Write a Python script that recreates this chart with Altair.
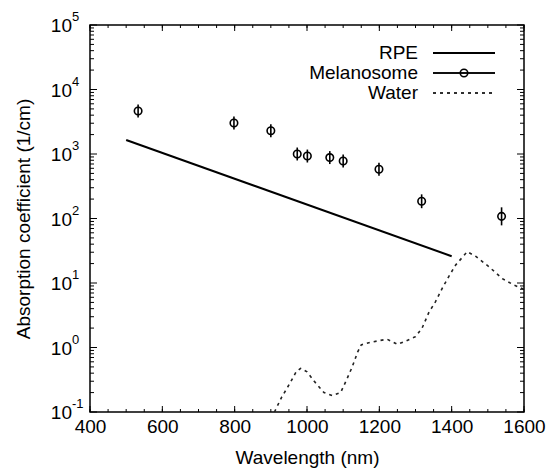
import altair as alt
import pandas as pd

# ---- data ----
mel_wl = [533, 798, 900, 973, 1001, 1063, 1100, 1199, 1317, 1538]
mel_val = [4640, 3020, 2300, 1000, 930, 880, 780, 580, 185, 108]
mel_err = [1.26, 1.26, 1.26, 1.26, 1.26, 1.26, 1.26, 1.26, 1.28, 1.38]  # multiplicative

rpe_wl = [500, 1400]
rpe_val = [1650, 26]

water_wl = [910, 930, 953, 970, 982, 1000, 1020, 1047, 1070, 1093, 1111, 1125, 1140,
            1150, 1175, 1200, 1222, 1250, 1272, 1300, 1318, 1337, 1355, 1375, 1392,
            1411, 1443, 1466, 1503, 1540, 1572, 1600]
water_val = [0.1, 0.17, 0.28, 0.42, 0.475, 0.42, 0.3, 0.2, 0.18, 0.2, 0.33, 0.5, 0.85,
             1.1, 1.2, 1.28, 1.34, 1.12, 1.25, 1.47, 1.99, 3.5, 5.1, 8.5, 12.6,
             19.0, 30.5, 26.0, 17.9, 11.7, 9.3, 8.0]

x_major = [400, 600, 800, 1000, 1200, 1400, 1600]
x_minor = list(range(400, 1601, 50))
decades = [0.1, 1, 10, 100, 1000, 10000, 100000]
exps = ["-1", "0", "1", "2", "3", "4", "5"]
y_minor = [m * d for d in [0.1, 1, 10, 100, 1000, 10000] for m in range(2, 10)]

legend_names = ["RPE", "Melanosome", "Water"]

W, H = 434, 387
FONT = "Liberation Sans"

mel = pd.DataFrame({"x": mel_wl, "y": mel_val,
                    "lo": [v / e for v, e in zip(mel_val, mel_err)],
                    "hi": [v * e for v, e in zip(mel_val, mel_err)]})
rpe = pd.DataFrame({"x": rpe_wl, "y": rpe_val})
water = pd.DataFrame({"x": water_wl, "y": water_val})
xmaj = pd.DataFrame({"x": x_major})
xmin = pd.DataFrame({"x": x_minor})
ymaj = pd.DataFrame({"y": decades, "e": exps})
ymin = pd.DataFrame({"y": y_minor})

xs = alt.Scale(domain=[400, 1600], nice=False, zero=False)
ys = alt.Scale(type="log", domain=[0.1, 100000], nice=False)
xaxis = alt.Axis(values=x_major, format="d", tickSize=0, domain=False, grid=False,
                 labelFlush=False, labelOverlap=False,
                 labelFontSize=19, labelFont=FONT, labelColor="black", labelPadding=5,
                 title="Wavelength (nm)", titleFontSize=19, titleFont=FONT,
                 titleFontWeight="normal", titleColor="black", titlePadding=12)
yaxis = alt.Axis(labels=False, ticks=False, domain=False, grid=False,
                 title="Absorption coefficient (1/cm)", titleFontSize=19, titleFont=FONT,
                 titleFontWeight="normal", titleColor="black", titlePadding=57)

X = alt.X("x:Q", scale=xs, axis=xaxis)
Y = alt.Y("y:Q", scale=ys, axis=yaxis)

water_line = alt.Chart(water).mark_line(color="#222", strokeWidth=1.6,
                                        strokeDash=[3, 4], clip=True).encode(x=X, y=Y)
rpe_line = alt.Chart(rpe).mark_line(color="black", strokeWidth=2, clip=True).encode(x=X, y=Y)
err = alt.Chart(mel).mark_rule(color="black", strokeWidth=1.6).encode(
    x=X, y=alt.Y("lo:Q", scale=ys, axis=yaxis), y2="hi:Q")
pts = alt.Chart(mel).mark_point(shape="circle", size=56, filled=False,
                                color="black", strokeWidth=1.6, opacity=1).encode(x=X, y=Y)

# inward ticks
xt_bot_major = alt.Chart(xmaj).mark_rule(color="black", strokeWidth=1).encode(
    x=X, y=alt.value(H), y2=alt.value(H - 6))
xt_top_major = alt.Chart(xmaj).mark_rule(color="black", strokeWidth=1).encode(
    x=X, y=alt.value(0), y2=alt.value(6))
xt_bot_minor = alt.Chart(xmin).mark_rule(color="black", strokeWidth=1).encode(
    x=X, y=alt.value(H), y2=alt.value(H - 3))
xt_top_minor = alt.Chart(xmin).mark_rule(color="black", strokeWidth=1).encode(
    x=X, y=alt.value(0), y2=alt.value(3))
yt_l_major = alt.Chart(ymaj).mark_rule(color="black", strokeWidth=1).encode(
    y=Y, x=alt.value(0), x2=alt.value(7))
yt_r_major = alt.Chart(ymaj).mark_rule(color="black", strokeWidth=1).encode(
    y=Y, x=alt.value(W), x2=alt.value(W - 7))
yt_l_minor = alt.Chart(ymin).mark_rule(color="black", strokeWidth=1).encode(
    y=Y, x=alt.value(0), x2=alt.value(4))
yt_r_minor = alt.Chart(ymin).mark_rule(color="black", strokeWidth=1).encode(
    y=Y, x=alt.value(W), x2=alt.value(W - 4))

# y tick labels 10^n
ylab_base = alt.Chart(ymaj).mark_text(align="right", baseline="middle", fontSize=19,
                                      font=FONT, color="black", dy=1).encode(
    y=Y, x=alt.value(-18), text=alt.value("10"))
ylab_exp = alt.Chart(ymaj).mark_text(align="left", baseline="middle", fontSize=13,
                                     font=FONT, color="black", dy=-8, dx=0).encode(
    y=Y, x=alt.value(-18), text="e:N")

# legend
lx_text, lx0, lx1 = 328, 343, 405
rows = [28, 48, 68]
leg_text = [alt.Chart(pd.DataFrame({"n": [legend_names[i]]})).mark_text(
    align="right", baseline="middle", fontSize=19, font=FONT, color="black").encode(
    x=alt.value(lx_text), y=alt.value(rows[i]), text="n:N") for i in range(3)]
leg_rpe = alt.Chart(rpe).mark_rule(color="black", strokeWidth=2).encode(
    x=alt.value(lx0), x2=alt.value(lx1), y=alt.value(rows[0]))
leg_mel = alt.Chart(rpe).mark_rule(color="black", strokeWidth=1.6).encode(
    x=alt.value(lx0), x2=alt.value(lx1), y=alt.value(rows[1]))
leg_mel_pt = alt.Chart(rpe.head(1)).mark_point(shape="circle", size=56, filled=False,
                                               color="black", strokeWidth=1.6, opacity=1).encode(
    x=alt.value((lx0 + lx1) / 2), y=alt.value(rows[1]))
leg_water = alt.Chart(rpe).mark_rule(color="#222", strokeWidth=1.6, strokeDash=[3, 4]).encode(
    x=alt.value(lx0), x2=alt.value(lx1), y=alt.value(rows[2]))

chart = alt.layer(
    water_line, rpe_line, err, pts,
    xt_bot_major, xt_top_major, xt_bot_minor, xt_top_minor,
    yt_l_major, yt_r_major, yt_l_minor, yt_r_minor,
    ylab_base, ylab_exp,
    *leg_text, leg_rpe, leg_mel, leg_mel_pt, leg_water,
).properties(
    width=W, height=H,
    autosize=alt.AutoSizeParams(type="none"),
    padding={"left": 82, "top": 17, "right": 22, "bottom": 58},
    background="white",
).configure_view(stroke="black", strokeWidth=1.5)

chart.save("out.html", embed_options={"renderer": "svg", "actions": False})
